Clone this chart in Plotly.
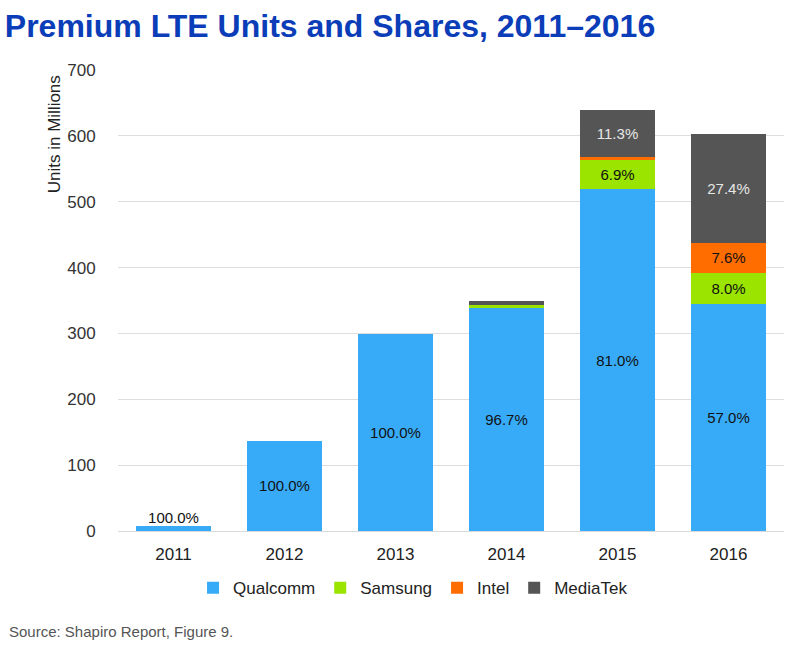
import plotly.graph_objects as go

years = ["2011", "2012", "2013", "2014", "2015", "2016"]
qualcomm = [7, 137, 299, 338, 519, 344]
samsung = [0, 0, 0, 5, 44, 48]
intel = [0, 0, 0, 0, 5, 46]
mediatek = [0, 0, 0, 6, 72, 165]

qualcomm_lbl = ["", "100.0%", "100.0%", "96.7%", "81.0%", "57.0%"]
samsung_lbl = ["", "", "", "", "6.9%", "8.0%"]
intel_lbl = ["", "", "", "", "", "7.6%"]
mediatek_lbl = ["", "", "", "", "11.3%", "27.4%"]
outside_lbl = ["100.0%", "", "", "", "", ""]

series = [
    ("Qualcomm", qualcomm, qualcomm_lbl, "#38ABF8", "#111111"),
    ("Samsung", samsung, samsung_lbl, "#9AE400", "#111111"),
    ("Intel", intel, intel_lbl, "#FF6C00", "#111111"),
    ("MediaTek", mediatek, mediatek_lbl, "#555555", "#E6E6E6"),
]

fig = go.Figure()
for name, vals, lbl, col, tcol in series:
    fig.add_trace(go.Bar(
        x=years, y=vals, name=name, text=lbl,
        textposition="inside", insidetextanchor="middle", textangle=0,
        textfont=dict(family="Liberation Sans, Arial", size=15, color=tcol),
        marker=dict(color=col, line=dict(width=0)),
        hoverinfo="skip",
    ))

fig.add_trace(go.Scatter(
    x=years, y=qualcomm, text=outside_lbl, mode="text", textposition="top center",
    textfont=dict(family="Liberation Sans, Arial", size=15, color="#111111"),
    showlegend=False, hoverinfo="skip", cliponaxis=False,
))

fig.update_layout(
    width=800, height=650,
    barmode="stack", bargap=0.32,
    plot_bgcolor="white", paper_bgcolor="white",
    margin=dict(l=118, r=16, t=70, b=119),
    title=dict(text="<b>Premium LTE Units and Shares, 2011–2016</b>", x=0.006, xanchor="left",
               y=0.96, yanchor="middle",
               font=dict(family="Liberation Sans, Arial", size=32, color="#0B3DB8")),
    legend=dict(orientation="h", x=0.443, xanchor="center", y=-0.124, yanchor="middle",
                font=dict(family="Liberation Sans, Arial", size=17, color="#222222"),
                traceorder="normal"),
    font=dict(family="Liberation Sans, Arial", size=16, color="#333333"),
)
fig.update_yaxes(range=[0, 700], dtick=100, gridcolor="#DDDDDD", gridwidth=1,
                 zeroline=True, zerolinecolor="#D9D9D9", zerolinewidth=1,
                 tickfont=dict(size=17, color="#333333"),
                 ticks="outside", ticklen=18, tickcolor="rgba(0,0,0,0)",
                 showline=False)
fig.update_xaxes(type="category", tickfont=dict(size=17, color="#222222"),
                 showline=False, ticks="outside", ticklen=8, tickcolor="rgba(0,0,0,0)")

fig.add_annotation(xref="paper", yref="paper", x=-0.095, y=0.86, text="Units in Millions",
                   textangle=-90, showarrow=False, xanchor="center", yanchor="middle",
                   font=dict(family="Liberation Sans, Arial", size=17, color="#222222"))
fig.add_annotation(xref="paper", yref="paper", x=-0.167, y=-0.218, text="Source: Shapiro Report, Figure 9.",
                   showarrow=False, xanchor="left", yanchor="middle",
                   font=dict(family="Liberation Sans, Arial", size=15, color="#555555"))

fig.write_html("out.html")
